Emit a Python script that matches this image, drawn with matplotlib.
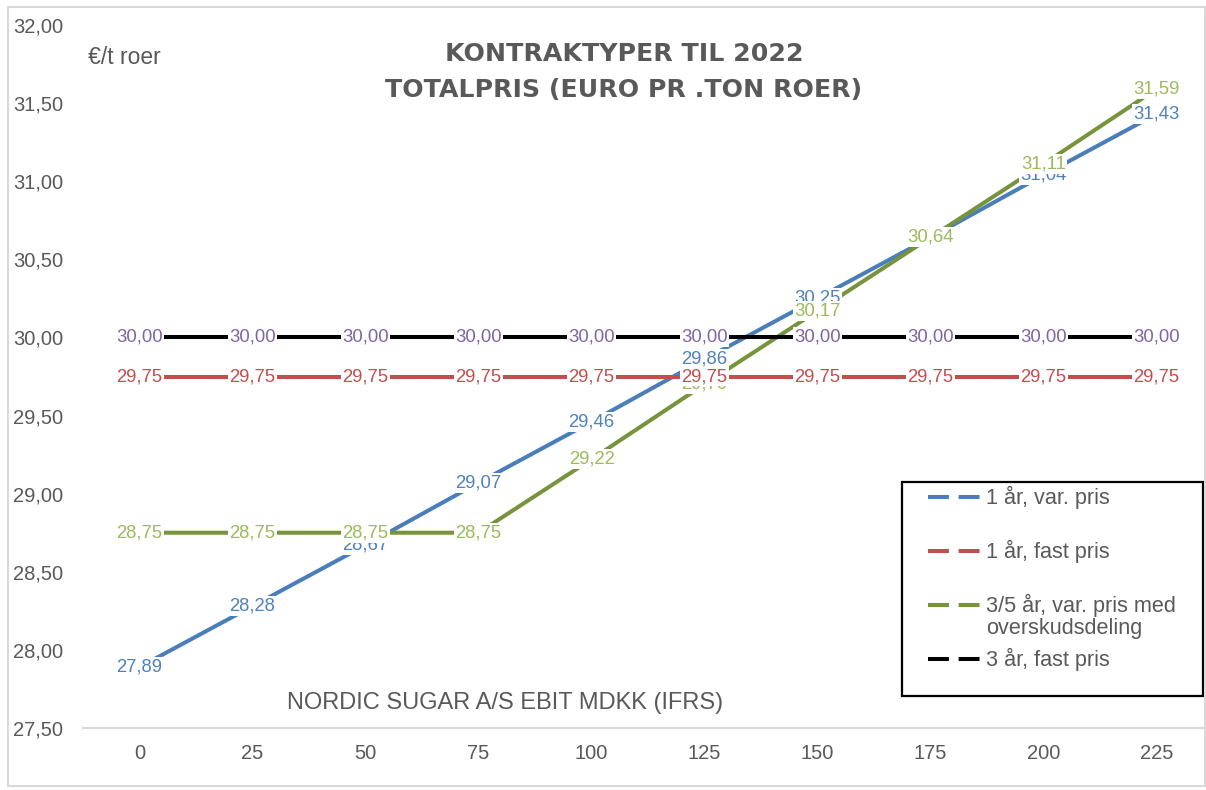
import matplotlib
matplotlib.use('Agg')
import matplotlib.pyplot as plt
from matplotlib.lines import Line2D
from matplotlib.patches import Rectangle

plt.rcParams['font.family'] = ['Liberation Sans', 'DejaVu Sans']

categories = ['0', '25', '50', '75', '100', '125', '150', '175', '200', '225']
var_1yr = [27.89, 28.28, 28.67, 29.07, 29.46, 29.86, 30.25, 30.64, 31.04, 31.43]
fast_1yr = [29.75] * 10
var_35yr = [28.75, 28.75, 28.75, 28.75, 29.22, 29.70, 30.17, 30.64, 31.11, 31.59]
fast_3yr = [30.00] * 10

series_names = ['1 år, var. pris', '1 år, fast pris',
                '3/5 år, var. pris med\noverskudsdeling', '3 år, fast pris']
line_colors = ['#4A7EBB', '#C0504D', '#77933C', '#000000']
label_colors = ['#4F81BD', '#C0504D', '#9BBB59', '#8064A2']
label_z = [5, 7, 6, 8]
gray = '#595959'

W, H = 1206, 790
fig = plt.figure(figsize=(W / 100, H / 100), dpi=100)
ax = fig.add_axes([83 / W, (H - 728) / H, 1130 / W, 703 / H])

x = list(range(len(categories)))
all_series = [var_1yr, fast_1yr, var_35yr, fast_3yr]
for vals, lc in zip(all_series, line_colors):
    ax.plot(x, vals, color=lc, lw=2.9, solid_capstyle='butt', zorder=3)

# data labels centred on points, white box hides the line underneath
for vals, tc, z in zip(all_series, label_colors, label_z):
    for xi, v in zip(x, vals):
        ax.text(xi, v, f'{v:.2f}'.replace('.', ','), color=tc, fontsize=13.3,
                ha='center', va='center', zorder=z,
                bbox=dict(boxstyle='square,pad=0.08', fc='white', ec='none'))

ax.set_xlim(-0.5, len(categories) - 0.5)
ax.set_ylim(27.5, 32.0)
ax.set_xticks(x)
ax.set_xticklabels(categories)
yt = [27.5 + 0.5 * i for i in range(10)]
ax.set_yticks(yt)
ax.set_yticklabels([f'{v:.2f}'.replace('.', ',') for v in yt])
ax.tick_params(axis='both', length=0, labelsize=14.5, labelcolor=gray)
ax.tick_params(axis='y', pad=14.4)
ax.tick_params(axis='x', pad=11.5)
for s in ['top', 'right', 'left']:
    ax.spines[s].set_visible(False)
ax.spines['bottom'].set_color('#D9D9D9')
ax.spines['bottom'].set_linewidth(1.5)

# titles and inner axis labels
fig.text(624 / W, 1 - 54 / H, 'KONTRAKTYPER TIL 2022', ha='center', va='center',
         fontsize=18.2, fontweight='bold', color=gray, family='DejaVu Sans')
fig.text(624 / W, 1 - 90 / H, 'TOTALPRIS (EURO PR .TON ROER)', ha='center', va='center',
         fontsize=18.2, fontweight='bold', color=gray, family='DejaVu Sans')
fig.text(88 / W, 1 - 57 / H, '€/t roer', ha='left', va='center', fontsize=16.5, color=gray)
fig.text(505 / W, 1 - 703 / H, 'NORDIC SUGAR A/S EBIT MDKK (IFRS)', ha='center',
         va='center', fontsize=17, color=gray)

# legend drawn in pixel coordinates
lax = fig.add_axes([902 / W, (H - 696) / H, 301 / W, 214 / H])
lax.set_xlim(902, 1203)
lax.set_ylim(696, 482)
lax.axis('off')
lax.add_patch(Rectangle((902, 482), 301, 214, fill=False, ec='black', lw=1.6,
                        clip_on=False))
rows = [497, 551, 605, 659]
for name, lc, yy in zip(series_names, line_colors, rows):
    lax.add_line(Line2D([928, 983], [yy, yy], color=lc, lw=2.9,
                        linestyle=(0, (5.2, 2.4))))
    lax.text(986, yy - 11, name, ha='left', va='top', fontsize=15.6, color=gray,
             linespacing=1.08)

# outer chart border
fig.patches.append(Rectangle((8 / W, 1 - 786 / H), 1197 / W, 779 / H, fill=False,
                             ec='#D9D9D9', lw=1.5, transform=fig.transFigure))

fig.savefig('out.png', dpi=100)
